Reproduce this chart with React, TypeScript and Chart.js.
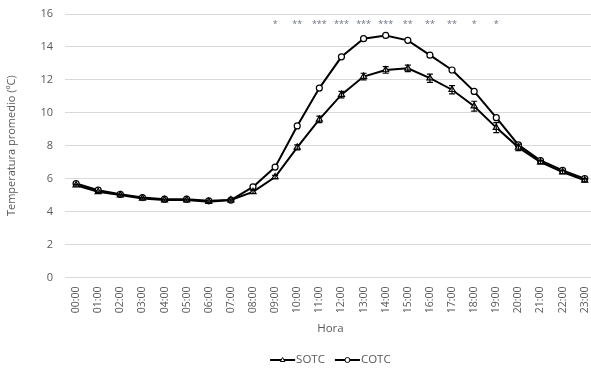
import React, { useEffect, useRef } from 'react';
import { Chart, registerables } from 'chart.js';

Chart.register(...registerables);

const hours = ['00:00','01:00','02:00','03:00','04:00','05:00','06:00','07:00','08:00','09:00','10:00','11:00','12:00','13:00','14:00','15:00','16:00','17:00','18:00','19:00','20:00','21:00','22:00','23:00'];
const sotc = [5.6,5.2,5.0,4.8,4.7,4.7,4.6,4.7,5.2,6.1,7.9,9.6,11.1,12.2,12.6,12.7,12.1,11.4,10.4,9.1,7.9,7.0,6.4,5.9];
const cotc = [5.7,5.3,5.05,4.85,4.75,4.75,4.65,4.7,5.5,6.7,9.2,11.5,13.4,14.5,14.7,14.4,13.5,12.6,11.3,9.7,8.05,7.1,6.5,6.0];
const sotcErr = [0.05,0.05,0.05,0.05,0.05,0.05,0.05,0.05,0.1,0.1,0.15,0.2,0.2,0.2,0.2,0.2,0.25,0.25,0.3,0.3,0.2,0.1,0.1,0.1];
const signif = ['','','','','','','','','','*','**','***','***','***','***','**','**','**','*','*','','','',''];
const signifLevel = 15.5;
const yTicks = [0,2,4,6,8,10,12,14,16];

const FONT = 'Open Sans';
const TEXT = '#595959';
const CANVAS_W = 601;

const errorBarPlugin = {
  id: 'errorBars',
  afterDatasetsDraw(chart: any) {
    const meta = chart.getDatasetMeta(0);
    const y = chart.scales.y;
    const ctx = chart.ctx;
    ctx.save();
    ctx.strokeStyle = '#000';
    ctx.lineWidth = 1.2;
    meta.data.forEach((pt: any, i: number) => {
      const e = sotcErr[i];
      if (!e) return;
      const x = pt.x;
      const y1 = y.getPixelForValue(sotc[i] + e);
      const y2 = y.getPixelForValue(sotc[i] - e);
      ctx.beginPath();
      ctx.moveTo(x, y1); ctx.lineTo(x, y2);
      ctx.moveTo(x - 3, y1); ctx.lineTo(x + 3, y1);
      ctx.moveTo(x - 3, y2); ctx.lineTo(x + 3, y2);
      ctx.stroke();
    });
    ctx.restore();
  },
};

const starsPlugin = {
  id: 'stars',
  afterDraw(chart: any) {
    const ctx = chart.ctx;
    const xs = chart.scales.x;
    const ys = chart.scales.y;
    ctx.save();
    ctx.fillStyle = '#6b7383';
    ctx.font = `9px "${FONT}"`;
    ctx.textAlign = 'center';
    ctx.textBaseline = 'middle';
    signif.forEach((s, i) => {
      if (!s) return;
      ctx.fillText(s, xs.getPixelForValue(i), ys.getPixelForValue(signifLevel) + 2);
    });
    ctx.restore();
  },
};

function drawMarker(ctx: CanvasRenderingContext2D, style: string, x: number, y: number, r: number) {
  ctx.beginPath();
  if (style === 'triangle') {
    ctx.moveTo(x, y - r);
    ctx.lineTo(x + r * 0.9, y + r * 0.6);
    ctx.lineTo(x - r * 0.9, y + r * 0.6);
    ctx.closePath();
  } else {
    ctx.arc(x, y, r, 0, Math.PI * 2);
  }
  ctx.fillStyle = '#fff';
  ctx.fill();
  ctx.stroke();
}

const legendPlugin = {
  id: 'customLegend',
  afterDraw(chart: any) {
    const ctx = chart.ctx;
    const area = chart.chartArea;
    const ds = chart.data.datasets;
    ctx.save();
    ctx.font = `11.5px "${FONT}"`;
    const lineW = 25;
    const gapText = 1;
    const gapItem = 10;
    const widths = ds.map((d: any) => lineW + gapText + ctx.measureText(d.label).width);
    const total = widths.reduce((a: number, b: number) => a + b, 0) + gapItem * (ds.length - 1);
    let x = (area.left + area.right) / 2 - total / 2;
    const y = 360;
    ds.forEach((d: any, i: number) => {
      ctx.strokeStyle = '#000';
      ctx.lineWidth = 2;
      ctx.beginPath();
      ctx.moveTo(x, y); ctx.lineTo(x + lineW, y);
      ctx.stroke();
      ctx.lineWidth = 1;
      drawMarker(ctx, d.pointStyle, x + lineW / 2, y, 2.5);
      ctx.fillStyle = TEXT;
      ctx.textAlign = 'left';
      ctx.textBaseline = 'middle';
      ctx.fillText(d.label, x + lineW + gapText, y);
      x += widths[i] + gapItem;
    });
    ctx.restore();
  },
};

export default function App() {
  const ref = useRef<HTMLCanvasElement>(null);
  useEffect(() => {
    if (!ref.current) return;
    const chart = new Chart(ref.current, {
      type: 'line',
      data: {
        labels: hours,
        datasets: [
          {
            label: 'SOTC',
            data: sotc,
            borderColor: '#000',
            borderWidth: 2,
            pointStyle: 'triangle',
            pointRadius: 3.5,
            pointBackgroundColor: '#fff',
            pointBorderColor: '#000',
            pointBorderWidth: 1.2,
            tension: 0,
          },
          {
            label: 'COTC',
            data: cotc,
            borderColor: '#000',
            borderWidth: 2,
            pointStyle: 'circle',
            pointRadius: 3,
            pointBackgroundColor: '#fff',
            pointBorderColor: '#000',
            pointBorderWidth: 1.2,
            tension: 0,
          },
        ],
      },
      options: {
        responsive: false,
        animation: false,
        layout: { padding: { top: 14, right: 0, bottom: 31, left: 0 } },
        plugins: {
          legend: { display: false },
          tooltip: { enabled: false },
        },
        scales: {
          x: {
            offset: true,
            afterFit(scale: any) { scale.paddingRight = 0; scale.paddingLeft = 0; },
            grid: { display: false, drawTicks: false },
            border: { display: false },
            ticks: {
              minRotation: 90,
              maxRotation: 90,
              autoSkip: false,
              padding: 9,
              color: TEXT,
              font: { family: FONT, size: 10.5 },
            },
            title: {
              display: true,
              text: 'Hora',
              color: TEXT,
              font: { family: FONT, size: 11.5 },
              padding: { top: 0, bottom: 2 },
            },
          },
          y: {
            min: 0,
            max: 16,
            afterFit(scale: any) { scale.width = 65; scale.paddingTop = 0; scale.paddingBottom = 0; },
            afterBuildTicks(scale: any) { scale.ticks = yTicks.map((v) => ({ value: v })); },
            grid: { color: '#d9d9d9', lineWidth: 1, drawTicks: false },
            border: { display: false },
            ticks: {
              padding: 12,
              color: TEXT,
              font: { family: FONT, size: 11 },
            },
            title: {
              display: true,
              text: 'Temperatura promedio (ºC)',
              color: TEXT,
              font: { family: FONT, size: 11 },
              padding: { top: 5, bottom: 0 },
            },
          },
        },
      },
      plugins: [errorBarPlugin, starsPlugin, legendPlugin],
    });
    return () => chart.destroy();
  }, []);
  return (
    <div style={{ position: 'fixed', left: 0, top: 0, width: 591, height: 369, background: '#fff', overflow: 'hidden' }}>
      <canvas ref={ref} width={CANVAS_W} height={369} style={{ display: 'block' }} />
    </div>
  );
}
